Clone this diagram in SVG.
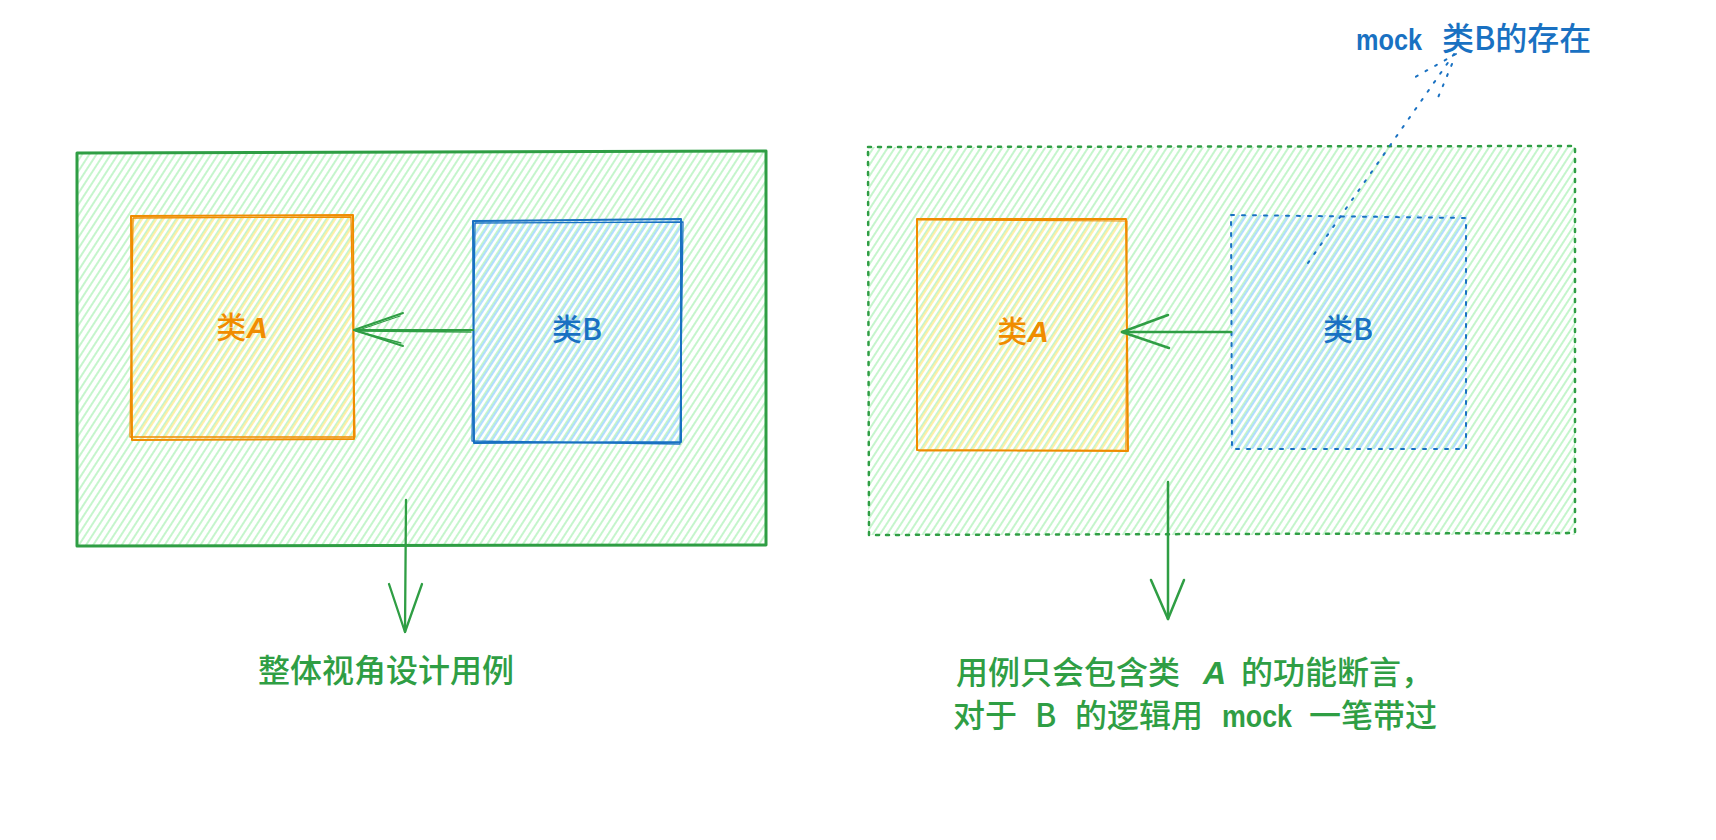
<svg xmlns="http://www.w3.org/2000/svg" width="1716" height="840" viewBox="0 0 1716 840">
<style>
  .cjk { font-family: "Noto Sans CJK SC", "Liberation Sans", sans-serif; font-weight: 500; }
  .lat { font-family: "Liberation Sans", "Noto Sans", sans-serif; font-weight: bold; }
  .green { fill: #2f9e44; }
  .orange { fill: #f08c00; }
  .blue { fill: #1971c2; }
  .sg { fill: none; stroke: #2f9e44; stroke-linecap: round; stroke-linejoin: round; }
  .so { fill: none; stroke: #f08c00; stroke-linecap: round; stroke-linejoin: round; }
  .sb { fill: none; stroke: #1971c2; stroke-linecap: round; stroke-linejoin: round; }
</style>
<defs>
  <pattern id="hG" patternUnits="userSpaceOnUse" width="6" height="6" patternTransform="rotate(33)">
    <line x1="3" y1="0" x2="3" y2="6" stroke="#b2f2bb" stroke-width="1.5"/>
  </pattern>
  <pattern id="hY" patternUnits="userSpaceOnUse" width="6" height="6" patternTransform="rotate(33) translate(1.5 0)">
    <line x1="3" y1="0" x2="3" y2="6" stroke="#ffec99" stroke-width="1.7"/>
  </pattern>
  <pattern id="hB" patternUnits="userSpaceOnUse" width="6" height="6" patternTransform="rotate(33) translate(1.5 0)">
    <line x1="3" y1="0" x2="3" y2="6" stroke="#a5d8ff" stroke-width="1.7"/>
  </pattern>
</defs>
<rect x="0" y="0" width="1716" height="840" fill="#ffffff"/>

<!-- LEFT SCENE -->
<g id="left-outer">
  <rect x="77" y="152" width="688" height="393" fill="url(#hG)"/>
  <path class="sg" stroke-width="3" d="M77 153 L766 151 L766 545 L77 546 Z"/>
</g>
<g id="left-classA">
  <rect x="131" y="216" width="223" height="224" fill="url(#hY)"/>
  <path class="so" stroke-width="2" d="M131 216 L353 215 L354 439 L132 440 Z"/>
  <path class="so" stroke-width="1.3" d="M133 218 L351 217 L355 437 L130 437 Z"/>
  <text class="cjk orange" x="242" y="338" font-size="30" text-anchor="middle">类<tspan font-family="Liberation Sans" font-style="italic" font-weight="bold">A</tspan></text>
</g>
<g id="left-classB">
  <rect x="473" y="220" width="209" height="223" fill="url(#hB)"/>
  <path class="sb" stroke-width="2" d="M473 221 L681 219 L681 442 L474 443 Z"/>
  <path class="sb" stroke-width="1.3" d="M475 223 L683 222 L680 444 L472 441 Z"/>
  <text class="cjk blue" x="577" y="340" font-size="30" text-anchor="middle">类B</text>
</g>
<g id="left-label">
  <text class="cjk green" x="386" y="682" font-size="32" text-anchor="middle">整体视角设计用例</text>
</g>

<!-- RIGHT SCENE -->
<g id="right-outer">
  <rect x="868" y="147" width="707" height="388" fill="url(#hG)"/>
  <path class="sg" stroke-width="2.5" stroke-dasharray="3 7" d="M868 147 L1575 146 L1575 533 L869 535 Z"/>
</g>
<g id="right-classA">
  <rect x="917" y="219" width="210" height="232" fill="url(#hY)"/>
  <path class="so" stroke-width="2" d="M917 219 L1126 219 L1128 451 L917 450 Z"/>
  <path class="so" stroke-width="1.2" d="M918 220 L1127 221 L1126 450 L919 451"/>
  <text class="cjk orange" x="1023" y="342" font-size="30" text-anchor="middle">类<tspan font-family="Liberation Sans" font-style="italic" font-weight="bold">A</tspan></text>
</g>
<g id="right-classB">
  <rect x="1231" y="215" width="236" height="234" fill="url(#hB)"/>
  <path class="sb" stroke-width="2" stroke-dasharray="3 8" d="M1231 215 L1466 218 L1466 449 L1232 449 Z"/>
  <text class="cjk blue" x="1348" y="340" font-size="30" text-anchor="middle">类B</text>
</g>
<g id="right-label">
  <text class="cjk green" font-size="32">
    <tspan x="956" y="684">用例只会包含类</tspan><tspan x="1203" y="684" font-family="Liberation Sans" font-style="italic" font-weight="bold">A</tspan><tspan x="1241" y="684">的功能断言，</tspan>
    <tspan x="953" y="727">对于</tspan><tspan x="1035" y="727">B</tspan><tspan x="1075" y="727">的逻辑用</tspan><tspan class="lat" x="1222" y="727" font-size="31" textLength="70" lengthAdjust="spacingAndGlyphs">mock</tspan><tspan x="1309" y="727">一笔带过</tspan>
  </text>
</g>
<g id="mock-note">
  <text class="cjk blue" font-size="32">
    <tspan class="lat" x="1356" y="50" font-size="30" textLength="66" lengthAdjust="spacingAndGlyphs">mock</tspan><tspan x="1442" y="50">类B的存在</tspan>
  </text>
</g>

<!-- CONNECTORS -->
<g id="connectors">
  <!-- left: B -> A -->
  <path class="sg" stroke-width="2.2" d="M473 330 L354 330"/>
  <path class="sg" stroke-width="1.4" d="M471 332 L356 331"/>
  <path class="sg" stroke-width="2" d="M403 313 L354 330 L403 346"/>
  <path class="sg" stroke-width="1.3" d="M400 316 L356 331 L401 343"/>
  <!-- right: B -> A -->
  <path class="sg" stroke-width="2.5" d="M1231 332 L1122 332"/>
  <path class="sg" stroke-width="2.5" d="M1168 315 L1122 332 L1169 348"/>
  <!-- left down arrow -->
  <path class="sg" stroke-width="2.3" d="M406 500 L405 632"/>
  <path class="sg" stroke-width="2.3" d="M389 584 L405 632 L422 584"/>
  <!-- right down arrow -->
  <path class="sg" stroke-width="2.5" d="M1168 482 L1168 619"/>
  <path class="sg" stroke-width="2.5" d="M1151 580 L1168 619 L1184 580"/>
  <!-- mock annotation (dotted) -->
  <path class="sb" stroke-width="2" stroke-dasharray="2 9" d="M1454 54 L1308 263"/>
  <path class="sb" stroke-width="2" stroke-dasharray="2 9" d="M1456 54 L1410 80"/>
  <path class="sb" stroke-width="2" stroke-dasharray="2 9" d="M1452 64 L1437 100"/>
</g>
</svg>
